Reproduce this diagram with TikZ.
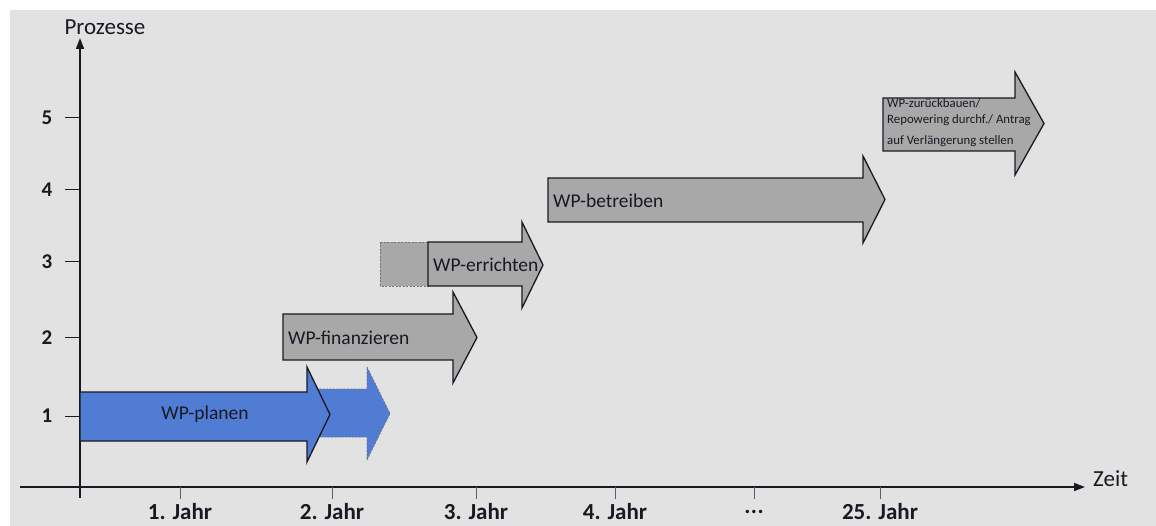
\documentclass[tikz,border=0pt]{standalone}
\usepackage{fontspec}
\setmainfont{Carlito}
\usetikzlibrary{arrows.meta}
\definecolor{bgc}{RGB}{226,226,226}
\definecolor{bluef}{RGB}{80,124,212}
\definecolor{grayf}{RGB}{168,168,168}
\definecolor{inkc}{RGB}{25,25,35}
\newcommand\myarrow[8]{%
  \draw[#1] (#2,#3) -- (#5,#3) -- (#5,#6) -- (#8,{(#6+#7)/2}) -- (#5,#7) -- (#5,#4) -- (#2,#4) -- cycle;}
\newcommand\mydots{.\kern0.5pt.\kern0.5pt.}
\begin{document}
\begin{tikzpicture}[x=1pt,y=-1pt,
  axisline/.style={draw=inkc,line width=1.6pt},
  tickline/.style={draw=inkc!70,line width=0.8pt},
  solidblue/.style={fill=bluef,draw=inkc,line width=1.3pt,line join=miter},
  dashblue/.style={fill=bluef,draw=inkc!60,line width=0.7pt,dash pattern=on 2pt off 1.5pt},
  solidgray/.style={fill=grayf,draw=inkc,line width=1.3pt,line join=miter},
  dashgray/.style={fill=grayf,draw=inkc!60,line width=0.7pt,dash pattern=on 2pt off 1.5pt},
  arrowtext/.style={text=inkc,font=\fontsize{19.5}{22}\selectfont,inner sep=0pt},
  smalltext/.style={text=inkc,font=\fontsize{12.8}{15}\selectfont,inner sep=0pt,align=left},
  ylabel/.style={text=inkc,font=\fontsize{21}{24}\selectfont\bfseries,inner sep=0pt},
  xlabel/.style={text=inkc,font=\fontsize{23}{26}\selectfont\bfseries,inner sep=0pt},
  axislabel/.style={text=inkc,font=\fontsize{23}{26}\selectfont,inner sep=0pt}]
\useasboundingbox (0,0) rectangle (1156,526);
\fill[white] (0,0) rectangle (1156,526);
\fill[bgc] (10,10) rectangle (1156,526);

% axes
\coordinate (yb) at (80,498);
\coordinate (yt) at (80,38);
\coordinate (xl) at (20,487);
\coordinate (xr) at (1085,487);
\draw[axisline,-{Triangle[length=11pt,width=8pt]}] (yb) -- (yt);
\draw[axisline,-{Triangle[length=11pt,width=8pt]}] (xl) -- (xr);
\node[axislabel] (prozesse) at (105,27) {Prozesse};
\node[axislabel,anchor=west] (zeit) at (1093,479) {Zeit};

% y ticks
\foreach \v/\yy in {1/416,2/338,3/262,4/190,5/118}{
  \coordinate (yt\v) at (80,\yy);
  \coordinate (ys\v) at (65,\yy);
  \draw[tickline,draw=inkc,line width=1pt] (ys\v) -- (yt\v);
  \node[ylabel] (yl\v) at (47,\yy) {\v};
}
% x ticks
\foreach \n/\xx/\txt in {1/180/1. Jahr,2/332/2. Jahr,3/476/3. Jahr,4/615/4. Jahr,5/754/\mydots,6/880/25. Jahr}{
  \coordinate (xa\n) at (\xx,487);
  \coordinate (xb\n) at (\xx,499);
  \draw[tickline] (xa\n) -- (xb\n);
  \node[xlabel] (xl\n) at (\xx,512) {\txt};
}

% process arrows
\myarrow{dashblue}{312}{389}{437}{367}{367}{460}{390}
\myarrow{solidblue}{80}{392}{441}{307}{367}{462}{330}
\node[arrowtext] (planen) at (205,414) {WP-planen};

\myarrow{solidgray}{283}{314}{360}{453}{292}{383}{477}
\node[arrowtext,anchor=west] (finanz) at (288,338) {WP-finanzieren};

\draw[dashgray] (380,242) rectangle (428,286);
\myarrow{solidgray}{428}{242}{286}{522}{222}{308}{543}
\node[arrowtext,anchor=west] (errichten) at (433,265) {WP-errichten};

\myarrow{solidgray}{548}{178}{222}{863}{156}{243}{885}
\node[arrowtext,anchor=west] (betreiben) at (553,201) {WP-betreiben};

\myarrow{solidgray}{883}{98}{151}{1015}{72}{175}{1044}
\node[smalltext,anchor=north west] (zurueck) at (887,98) {WP-zurückbauen/\\[1pt]Repowering durchf./ Antrag\\[6pt]auf Verlängerung stellen};
\end{tikzpicture}
\end{document}
